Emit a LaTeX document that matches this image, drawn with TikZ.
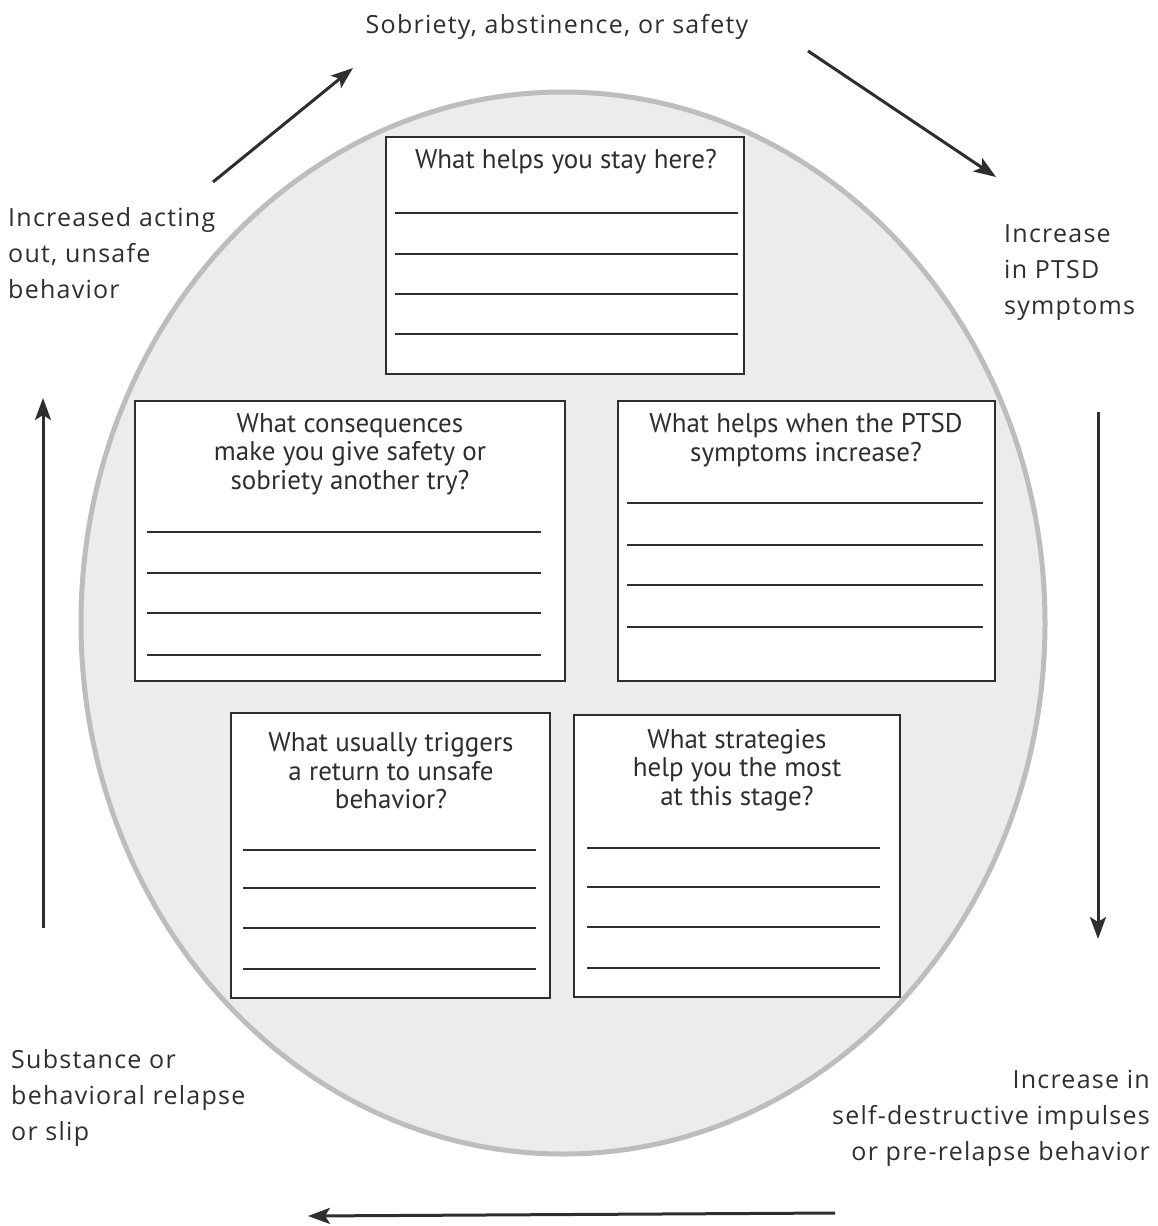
\documentclass[tikz,border=0pt]{standalone}
\usepackage{fontspec}
\setmainfont[LetterSpace=5]{Open Sans}
\newfontfamily\boxfont{PT Sans}
\usetikzlibrary{arrows.meta,shapes.geometric}
\definecolor{ink}{HTML}{2E2E2E}
\definecolor{ringfill}{HTML}{ECECEC}
\definecolor{ringline}{HTML}{BDBDBD}
\tikzset{
  ring/.style={ellipse, draw=ringline, line width=5pt, fill=ringfill, inner sep=0pt},
  qbox/.style={draw=ink, line width=2.6pt, fill=white, inner sep=0pt},
  qtext/.style={font=\boxfont\fontsize{27}{28.5}\selectfont, text=ink, align=center, inner sep=0pt},
  side/.style={font=\fontsize{25}{36}\selectfont, text=ink, inner sep=0pt},
  rule/.style={draw=ink, line width=1.4pt},
  flow/.style={draw=ink, line width=3pt, -{Stealth[length=22pt,width=16pt,inset=5pt]}}
}
\begin{document}
\begin{tikzpicture}[x=1pt,y=-1pt]
\useasboundingbox (0,0) rectangle (1157,1226);

% background circle
\node[ring, minimum width=964pt, minimum height=1062pt] (ring) at (563,623) {};

% question boxes
\node[qbox, minimum width=358pt, minimum height=237pt] (stay) at (565,255.5) {};
\node[qbox, minimum width=430pt, minimum height=280pt] (conseq) at (350,541) {};
\node[qbox, minimum width=377pt, minimum height=280pt] (ptsd) at (806.5,541) {};
\node[qbox, minimum width=319pt, minimum height=285pt] (trig) at (390.5,855.5) {};
\node[qbox, minimum width=326pt, minimum height=282pt] (strat) at (737,856) {};

% writing lines
\foreach \y in {213,254,294,334} \draw[rule] (395,\y) -- (738,\y);
\foreach \y in {532,573,613,655} \draw[rule] (147,\y) -- (541,\y);
\foreach \y in {503,545,585,627} \draw[rule] (627,\y) -- (983,\y);
\foreach \y in {850,888,928,969} \draw[rule] (243,\y) -- (536,\y);
\foreach \y in {848,887,927,968} \draw[rule] (587,\y) -- (880,\y);

% questions
\node[qtext] (stayq) at (566,162) {What helps you stay here?};
\node[qtext] (conseqq) at (350,454) {What consequences\\make you give safety or\\sobriety another try?};
\node[qtext] (ptsdq) at (806,440) {What helps when the PTSD\\symptoms increase?};
\node[qtext] (trigq) at (391,771) {What usually triggers\\a return to unsafe\\behavior?};
\node[qtext] (stratq) at (737,770) {What strategies\\help you the most\\at this stage?};

% stage labels
\node[side] (sober) at (557,27) {Sobriety, abstinence, or safety};
\node[side, anchor=west, align=left] (symp) at (1004,273) {Increase\\in PTSD\\symptoms};
\node[side, anchor=east, align=right] (impulse) at (1150,1118) {Increase in\\self-destructive impulses\\or pre-relapse behavior};
\node[side, anchor=west, align=left] (relapse) at (11,1098) {Substance or\\behavioral relapse\\or slip};
\node[side, anchor=west, align=left] (acting) at (8,253) {Increased acting\\out, unsafe\\behavior};

% cycle arrows
\coordinate (a1s) at (213,182); \coordinate (a1e) at (353,68);
\coordinate (a2s) at (808,51);  \coordinate (a2e) at (996,177);
\coordinate (a3s) at (1098,412); \coordinate (a3e) at (1098,939);
\coordinate (a4s) at (835,1213); \coordinate (a4e) at (308,1216);
\coordinate (a5s) at (43,928);  \coordinate (a5e) at (43,398);
\draw[flow] (a1s) -- (a1e);
\draw[flow] (a2s) -- (a2e);
\draw[flow] (a3s) -- (a3e);
\draw[flow] (a4s) -- (a4e);
\draw[flow] (a5s) -- (a5e);
\end{tikzpicture}
\end{document}
